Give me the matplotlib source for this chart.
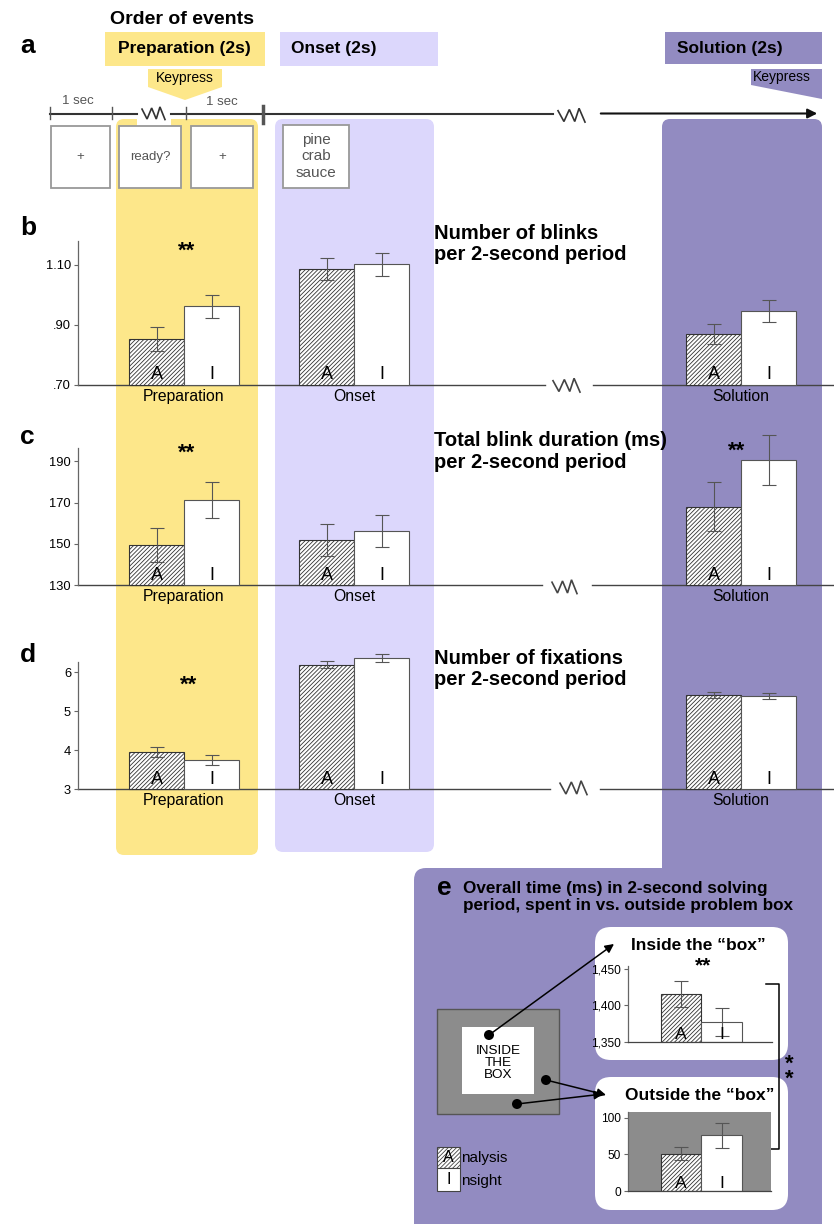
import matplotlib

matplotlib.use("Agg")
import matplotlib.pyplot as plt
import numpy as np
from matplotlib.patches import FancyBboxPatch, Rectangle, Polygon, Circle

plt.rcParams.update(
    {
        "font.family": ["Liberation Sans", "DejaVu Sans"],
        "hatch.linewidth": 0.6,
        "axes.linewidth": 0.9,
    }
)

W, H = 834, 1224
YELLOW = "#FDE78A"
LAVENDER = "#DCD7FC"
PURPLE = "#928BC1"
GRAY = "#8C8C8C"
EDGE = "#333333"
ERR = "#555555"
HATCH = "////////"

# ── data ──────────────────────────────────────────────────────────────────────
categories = ["Preparation", "Onset", "Solution"]

blinks_a = [0.852, 1.084, 0.869]
blinks_a_err = [0.040, 0.037, 0.033]
blinks_i = [0.961, 1.100, 0.945]
blinks_i_err = [0.038, 0.037, 0.036]

duration_a = [149.5, 151.8, 168.0]
duration_a_err = [8.3, 7.8, 12.0]
duration_i = [171.3, 156.3, 190.7]
duration_i_err = [8.6, 7.7, 12.1]

fixations_a = [3.96, 6.19, 5.42]
fixations_a_err = [0.13, 0.09, 0.08]
fixations_i = [3.75, 6.35, 5.38]
fixations_i_err = [0.14, 0.10, 0.08]

inside_box = [1415, 1377]      # analysis, insight
inside_box_err = [18, 19]
outside_box = [51, 76]
outside_box_err = [9, 17]

# ── layout (pixels) ───────────────────────────────────────────────────────────
GROUP_X = np.array([184, 354, 741])
BAR_W = 55
E_X = np.array([681, 721.5])
E_W = 40.5


def px_axes(fig, x0, y0, x1, y1):
    return fig.add_axes([x0 / W, 1 - y1 / H, (x1 - x0) / W, (y1 - y0) / H])


def zigzag(ax, x0, x1, yc, h, color="#444444", lw=1.2):
    xs = x0 + (x1 - x0) * np.array([0, 0.22, 0.42, 0.62, 0.78, 1.0])
    ys = yc + h * np.array([-0.4, 0.5, -0.5, 0.5, -0.6, 0.55])
    ax.plot(xs, ys, color=color, lw=lw, solid_joinstyle="miter")


def broken_line(ax, y, cut0, z0, z1, cut1, zy=None, x0=78, x1=834):
    ax.plot([x0, cut0], [y, y], color="#444444", lw=1.0)
    ax.plot([cut1, x1], [y, y], color="#444444", lw=1.0)
    zigzag(ax, z0, z1, y + 1 if zy is None else zy, 12)


def style_axes(ax, ylim, ticks, ticklabels, labelsize=9.3):
    ax.set_ylim(*ylim)
    ax.patch.set_alpha(0)
    for s in ("top", "right"):
        ax.spines[s].set_visible(False)
    ax.spines["left"].set_color("#666666")
    ax.set_yticks(ticks, ticklabels)
    ax.tick_params(axis="y", length=3, width=0.8, color="#666666",
                   labelsize=labelsize, pad=2)


def bar_panel(fig, top, base, ylim, ticks, ticklabels, a, a_err, i, i_err):
    ax = px_axes(fig, 78, top, 834, base)
    ax.set_xlim(78, 834)
    style_axes(ax, ylim, ticks, ticklabels)
    ax.spines["bottom"].set_visible(False)
    lo = ylim[0]
    a = np.asarray(a)
    i = np.asarray(i)
    ax.bar(GROUP_X - BAR_W / 2, a - lo, BAR_W, bottom=lo, color="white",
           edgecolor=EDGE, hatch=HATCH, lw=0.8, clip_on=False)
    ax.bar(GROUP_X + BAR_W / 2, i - lo, BAR_W, bottom=lo, color="white",
           edgecolor="#555555", lw=0.8, clip_on=False)
    for xs, v, e in ((GROUP_X - BAR_W / 2, a, a_err), (GROUP_X + BAR_W / 2, i, i_err)):
        eb = ax.errorbar(xs, v, yerr=e, fmt="none", ecolor=ERR, elinewidth=0.8,
                         capsize=5, capthick=0.8)
        for art in eb.lines[1] + eb.lines[2]:
            art.set_clip_on(False)
    for c in GROUP_X:
        ax.annotate("A", (c - BAR_W / 2, lo), xytext=(0, 1), textcoords="offset points",
                    ha="center", va="bottom", fontsize=13)
        ax.annotate("I", (c + BAR_W / 2, lo), xytext=(0, 1), textcoords="offset points",
                    ha="center", va="bottom", fontsize=13)
    ax.set_xticks(GROUP_X, categories)
    ax.tick_params(axis="x", length=0, pad=3, labelsize=11.3)
    return ax


def box_panel(fig, x0, top, x1, base, ylim, ticks, ticklabels, vals, errs, face=None):
    ax = px_axes(fig, x0, top, x1, base)
    ax.set_xlim(x0, x1)
    style_axes(ax, ylim, ticks, ticklabels, labelsize=8.6)
    ax.spines["bottom"].set_color("#444444")
    if face:
        ax.patch.set_alpha(1)
        ax.set_facecolor(face)
    ax.set_xticks([])
    lo = ylim[0]
    vals = np.asarray(vals)
    ax.bar(E_X[0], vals[0] - lo, E_W, bottom=lo, color="white", edgecolor=EDGE,
           hatch=HATCH, lw=0.8)
    ax.bar(E_X[1], vals[1] - lo, E_W, bottom=lo, color="white", edgecolor="#555555",
           lw=0.8)
    ax.errorbar(E_X, vals, yerr=errs, fmt="none", ecolor=ERR, elinewidth=0.8,
                capsize=5, capthick=0.8)
    for x, lab in zip(E_X, ("A", "I")):
        ax.annotate(lab, (x, lo), xytext=(0, 0), textcoords="offset points",
                    ha="center", va="bottom", fontsize=12.5)
    return ax


fig = plt.figure(figsize=(W / 100, H / 100), dpi=100)
bg = fig.add_axes([0, 0, 1, 1])
bg.set_xlim(0, W)
bg.set_ylim(H, 0)
bg.axis("off")

# ── coloured period columns ───────────────────────────────────────────────────
bg.add_patch(FancyBboxPatch((116, 119), 142, 736, boxstyle="round,pad=0,rounding_size=8",
                            fc=YELLOW, ec="none"))
bg.add_patch(FancyBboxPatch((275, 119), 159, 733, boxstyle="round,pad=0,rounding_size=8",
                            fc=LAVENDER, ec="none"))
bg.add_patch(FancyBboxPatch((662, 119), 160, 1200, boxstyle="round,pad=0,rounding_size=8",
                            fc=PURPLE, ec="none"))
bg.add_patch(FancyBboxPatch((414, 868), 408, 500, boxstyle="round,pad=0,rounding_size=12",
                            fc=PURPLE, ec="none"))
bg.add_patch(Rectangle((137, 116), 34, 10, fc="white", ec="none"))

# ── panel a: order of events ──────────────────────────────────────────────────
bg.text(20, 46, "a", fontsize=19, fontweight="bold", va="center")
bg.text(182, 20, "Order of events", fontsize=14, fontweight="bold", ha="center", va="center")
bg.add_patch(Rectangle((105, 32), 160, 34, fc=YELLOW, ec="none"))
bg.add_patch(Rectangle((280, 32), 158, 34, fc=LAVENDER, ec="none"))
bg.add_patch(Rectangle((665, 32), 157, 32, fc=PURPLE, ec="none"))
bg.text(184, 49, "Preparation (2s)", fontsize=12.5, fontweight="bold", ha="center", va="center")
bg.text(291, 49, "Onset (2s)", fontsize=12.5, fontweight="bold", va="center")
bg.text(677, 49, "Solution (2s)", fontsize=12.5, fontweight="bold", va="center")

bg.add_patch(Polygon([(148, 69), (222, 69), (222, 87), (185, 100), (148, 87)],
                     closed=True, fc=YELLOW, ec="none"))
bg.text(185, 78, "Keypress", fontsize=10, ha="center", va="center")
bg.add_patch(Polygon([(751, 69), (822, 69), (822, 99), (751, 85)], closed=True,
                     fc=PURPLE, ec="none"))
bg.text(753, 77, "Keypress", fontsize=10, va="center")

TL = 113.5
bg.plot([50, 137], [TL, TL], color="#333333", lw=1.5)
bg.plot([171, 553], [TL, TL], color="#333333", lw=1.5)
zigzag(bg, 142, 165, TL, 11, color="#333333")
zigzag(bg, 558, 585, TL + 2, 12, color="#333333")
bg.annotate("", xy=(820, TL), xytext=(598, TL),
            arrowprops=dict(arrowstyle="-|>", color="#111111", lw=1.5, mutation_scale=14))
for x in (50, 112, 186):
    bg.plot([x, x], [TL - 7, TL + 5], color="#555555", lw=1.0)
bg.plot([263, 263], [TL - 8, TL + 9], color="#555555", lw=2.5)
bg.text(78, 101, "1 sec", fontsize=9.5, color="#555555", ha="center", va="center")
bg.text(222, 102, "1 sec", fontsize=9.5, color="#555555", ha="center", va="center")

for (x0, y0, x1, y1), label in (
    ((51, 126, 110, 188), "+"),
    ((119, 126, 181, 188), "ready?"),
    ((191, 126, 253, 188), "+"),
    ((283, 125, 349, 188), "pine\ncrab\nsauce"),
):
    bg.add_patch(Rectangle((x0, y0), x1 - x0, y1 - y0, fc="white", ec="#999999", lw=1.3))
    bg.text((x0 + x1) / 2, (y0 + y1) / 2, label, fontsize=11 if "\n" in label else 9.5,
            color="#555555", ha="center", va="center", linespacing=1.25)

# ── panels b, c, d ────────────────────────────────────────────────────────────
bar_panel(fig, 240.5, 384.5, (0.70, 1.18), [0.70, 0.90, 1.10], [".70", ".90", "1.10"],
          blinks_a, blinks_a_err, blinks_i, blinks_i_err)
bar_panel(fig, 448, 585, (130, 196.5), [130, 150, 170, 190], ["130", "150", "170", "190"],
          duration_a, duration_a_err, duration_i, duration_i_err)
bar_panel(fig, 661.5, 789.3, (3, 6.27), [3, 4, 5, 6], ["3", "4", "5", "6"],
          fixations_a, fixations_a_err, fixations_i, fixations_i_err)

broken_line(bg, 384.5, 545, 553, 580, 593)
broken_line(bg, 585, 542, 552, 577, 592, zy=587)
broken_line(bg, 789.3, 550, 560, 587, 600, zy=788)

for y, letter in ((228, "b"), (437, "c"), (655, "d")):
    bg.text(20, y, letter, fontsize=19, fontweight="bold", va="center")
for y, title in (
    (244, "Number of blinks\nper 2-second period"),
    (451.5, "Total blink duration (ms)\nper 2-second period"),
    (669, "Number of fixations\nper 2-second period"),
):
    bg.text(434, y, title, fontsize=14.5, fontweight="bold", va="center", linespacing=1.15)
for x, y in ((187, 251), (187, 453), (737, 451), (189, 685)):
    bg.text(x, y, "**", fontsize=16, fontweight="bold", ha="center", va="center")

# ── panel e ───────────────────────────────────────────────────────────────────
bg.text(437, 888, "e", fontsize=19, fontweight="bold", va="center")
bg.text(463, 897, "Overall time (ms) in 2-second solving\nperiod, spent in vs. outside problem box",
        fontsize=12.3, fontweight="bold", va="center", linespacing=1.15)
bg.add_patch(FancyBboxPatch((595, 927), 193, 133, boxstyle="round,pad=0,rounding_size=16",
                            fc="white", ec="none"))
bg.add_patch(FancyBboxPatch((595, 1077), 193, 133, boxstyle="round,pad=0,rounding_size=16",
                            fc="white", ec="none"))
bg.text(698, 945, "Inside the \u201cbox\u201d", fontsize=12.5, fontweight="bold",
        ha="center", va="center")
bg.text(700, 1096, "Outside the \u201cbox\u201d", fontsize=12.5, fontweight="bold",
        ha="center", va="center")
bg.text(703, 966, "**", fontsize=15, fontweight="bold", ha="center", va="center")

box_panel(fig, 628, 966, 772, 1041.7, (1350, 1454), [1350, 1400, 1450],
          ["1,350", "1,400", "1,450"], inside_box, inside_box_err)
box_panel(fig, 628, 1111.7, 771, 1191, (0, 108), [0, 50, 100], ["0", "50", "100"],
          outside_box, outside_box_err, face=GRAY)
bg.text(713, 1124, "**", fontsize=15, fontweight="bold", ha="center", va="center", zorder=5)

# the "box" sketch
bg.add_patch(Rectangle((437, 1009), 122, 105, fc=GRAY, ec="#555555", lw=1))
bg.add_patch(Rectangle((462, 1027), 72, 67, fc="white", ec="none"))
bg.text(498, 1063, "INSIDE\nTHE\nBOX", fontsize=9.7, ha="center", va="center", linespacing=1.0)
for (x0, y0), (x1, y1) in (((489, 1035), (614, 944)),
                           ((546, 1080), (606, 1095)),
                           ((517, 1104), (603, 1094))):
    bg.annotate("", xy=(x1, y1), xytext=(x0, y0),
                arrowprops=dict(arrowstyle="-|>", color="black", lw=1.1, mutation_scale=13,
                                shrinkA=0, shrinkB=0))
    bg.add_patch(Circle((x0, y0), 5, fc="black", ec="none"))

# bracket between the two boxes
bg.plot([766, 779, 779, 766], [984, 984, 1149, 1149], color="black", lw=1.1)
bg.text(789, 1072, "*\n*", fontsize=16, fontweight="bold", ha="center", va="center",
        linespacing=0.6)

# legend
bg.add_patch(Rectangle((437, 1147), 23, 21, fc="white", ec="#444444", hatch=HATCH, lw=0.8))
bg.add_patch(Rectangle((437, 1168), 23, 23, fc="white", ec="#444444", lw=0.8))
bg.text(448.5, 1158, "A", fontsize=11.5, ha="center", va="center")
bg.text(448.5, 1180, "I", fontsize=11.5, ha="center", va="center")
bg.text(461, 1158, "nalysis", fontsize=11, va="center")
bg.text(461, 1181, "nsight", fontsize=11, va="center")

fig.savefig("out.png", dpi=100)
